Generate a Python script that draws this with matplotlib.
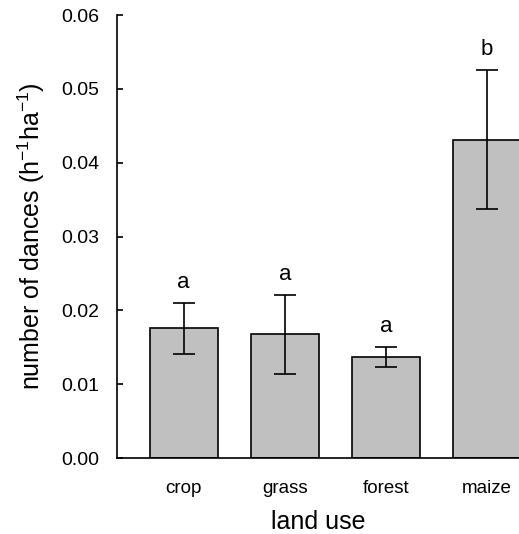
import matplotlib
matplotlib.use('Agg')
import matplotlib.pyplot as plt
import numpy as np

plt.rcParams['font.family'] = ['Liberation Sans', 'DejaVu Sans']
plt.rcParams['mathtext.fontset'] = 'custom'
plt.rcParams['mathtext.rm'] = 'Liberation Sans'
plt.rcParams['mathtext.it'] = 'Liberation Sans:italic'

land_use = ['crop', 'grass', 'forest', 'maize']
dances = [0.0176, 0.0168, 0.0137, 0.0431]
err_low = [0.0141, 0.0114, 0.0123, 0.0337]
err_high = [0.0210, 0.0221, 0.0151, 0.0526]
letters = ['a', 'a', 'a', 'b']

x = np.arange(len(land_use))
yerr = [np.array(dances) - np.array(err_low), np.array(err_high) - np.array(dances)]

fig = plt.figure(figsize=(5.19, 5.34), dpi=100)
ax = fig.add_axes([0.2254, 0.1423, 0.7746, 0.8296])

ax.bar(x, dances, width=0.67, color='#c0c0c0', edgecolor='black', linewidth=1.2, zorder=2)
ax.errorbar(x, dances, yerr=yerr, fmt='none', ecolor='black', elinewidth=1.2,
            capsize=8, capthick=1.2, zorder=3)

for xi, top, lab in zip(x, err_high, letters):
    ax.annotate(lab, (xi, top), xytext=(0, 7), textcoords='offset points',
                ha='center', va='bottom', fontsize=16)

ax.set_xlim(-0.66, 3.317)
ax.set_ylim(0, 0.06)
ax.set_yticks(np.arange(0, 0.061, 0.01))
ax.set_yticklabels(['%.2f' % v for v in np.arange(0, 0.061, 0.01)])
ax.set_xticks(x)
ax.set_xticklabels(land_use)

ax.spines['top'].set_visible(False)
ax.spines['right'].set_visible(False)
ax.spines['left'].set_linewidth(1.2)
ax.spines['bottom'].set_linewidth(1.2)
ax.tick_params(axis='y', direction='in', length=4, width=1.2, labelsize=14, pad=13)
ax.tick_params(axis='x', length=0, labelsize=13.5, pad=16)

ax.set_xlabel('land use', fontsize=18, labelpad=9)
ax.set_ylabel('number of dances (h$^{-1}$ha$^{-1}$)', fontsize=18, labelpad=10)

fig.savefig('out.png', dpi=100)
